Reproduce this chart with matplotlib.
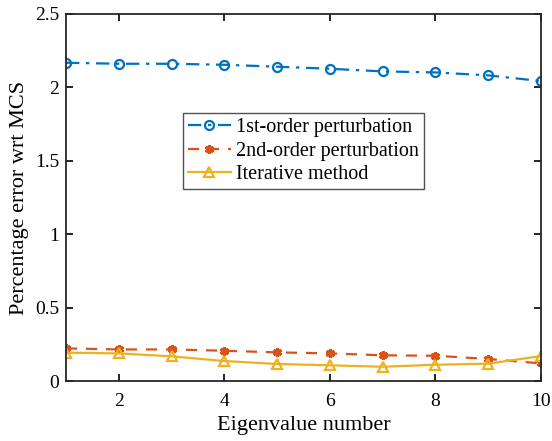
import matplotlib
matplotlib.use("Agg")
import matplotlib.pyplot as plt

plt.rcParams['font.family'] = ['Liberation Serif', 'DejaVu Serif']
plt.rcParams['mathtext.fontset'] = 'stix'

eig = [1, 2, 3, 4, 5, 6, 7, 8, 9, 10]
first_order = [2.168, 2.161, 2.161, 2.154, 2.141, 2.127, 2.109, 2.102, 2.082, 2.043]
second_order = [0.222, 0.215, 0.215, 0.206, 0.195, 0.188, 0.175, 0.172, 0.150, 0.120]
iterative = [0.193, 0.188, 0.168, 0.136, 0.116, 0.107, 0.097, 0.111, 0.118, 0.170]
labels = ['1st-order perturbation', '2nd-order perturbation', 'Iterative method']

fig = plt.figure(figsize=(5.52, 4.41), dpi=100)
ax = fig.add_axes([66/552, 1-381/441, (541-66)/552, (381-14)/441])

ax.plot(eig, first_order, color='#0072BD', linestyle=(0, (6, 3, 1.5, 3)), linewidth=1.6,
        marker='o', markersize=6.5, markerfacecolor='none', markeredgewidth=1.6, label=labels[0])
ax.plot(eig, second_order, color='#D95319', linestyle=(0, (5, 4)), linewidth=1.6,
        marker=(6, 2, 0), markersize=6.5, markeredgewidth=2.2, label=labels[1])
ax.plot(eig, iterative, color='#EDB120', linestyle='-', linewidth=1.6,
        marker='^', markersize=7.5, markerfacecolor='none', markeredgewidth=1.6, label=labels[2])

ax.set_xlim(1, 10)
ax.set_ylim(0, 2.5)
ax.set_xticks([2, 4, 6, 8, 10])
ax.set_yticks([0, 0.5, 1, 1.5, 2, 2.5])
ax.set_yticklabels(['0', '0.5', '1', '1.5', '2', '2.5'])
ax.tick_params(direction='in', labelsize=14, length=5, width=1.2,
               top=True, right=True, pad=5)
ax.tick_params(axis='x', pad=9)
for s in ax.spines.values():
    s.set_linewidth(1.3)
    s.set_color('#262626')
ax.set_xlabel('Eigenvalue number', fontsize=16, labelpad=4)
ax.set_ylabel('Percentage error wrt MCS', fontsize=16, labelpad=4)

leg = ax.legend(loc='upper left', bbox_to_anchor=((183.3-66)/475, 1-(113.3-14)/367),
                fontsize=14.5, frameon=True, fancybox=False, edgecolor='#262626',
                borderpad=0.25, labelspacing=0.2, handlelength=2.1, handletextpad=0.25,
                borderaxespad=0)
leg.get_frame().set_linewidth(1.0)

fig.savefig('out.png', dpi=100)
